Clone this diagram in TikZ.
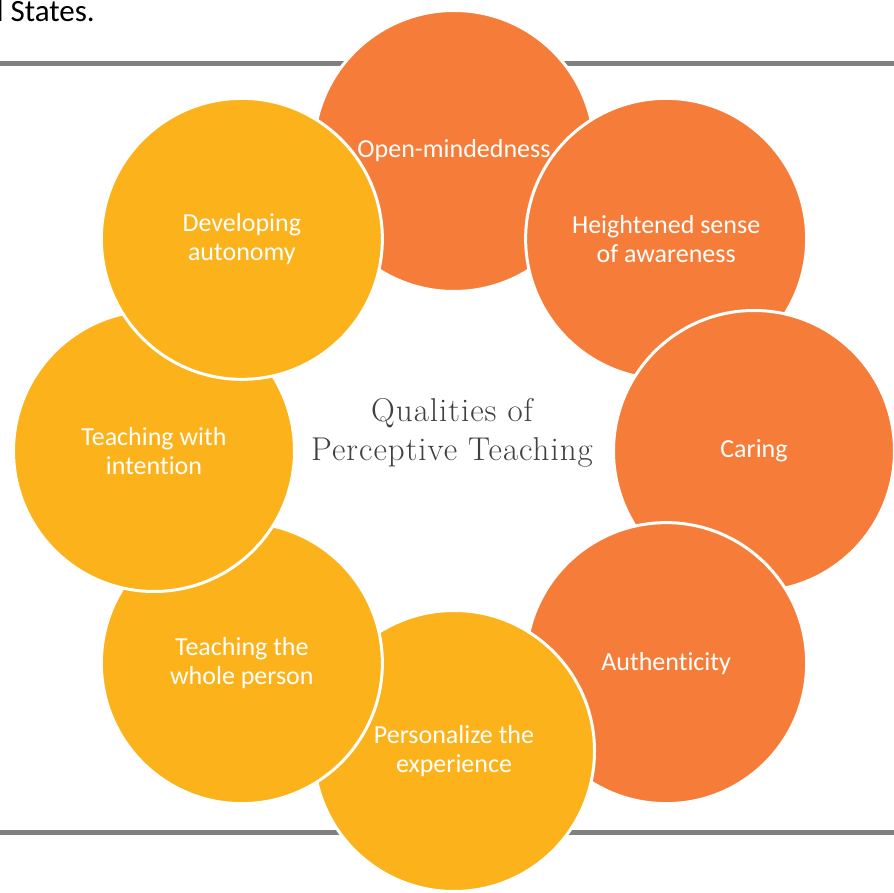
\documentclass[tikz,border=0pt]{standalone}
\usepackage{fontspec}
\usepackage{xcolor}
\usepackage{tikz}
\newfontfamily\calibri[Ligatures=NoCommon]{Carlito}
\newfontfamily\titlefont[LetterSpace=3]{Latin Modern Roman}
\definecolor{warmorange}{HTML}{F57D39}
\definecolor{goldyellow}{HTML}{FBB21B}
\definecolor{rulegray}{HTML}{808080}
\definecolor{titlegray}{HTML}{404040}

\begin{document}
\begin{tikzpicture}[x=1pt, y=1pt,
    quality/.style={circle, minimum size=281pt, inner sep=0pt, draw=white, line width=3pt, text=white, align=center, font=\calibri\fontsize{26}{29}\selectfont},
    warm/.style={quality, fill=warmorange},
    gold/.style={quality, fill=goldyellow},
    label only/.style={text=white, align=center, font=\calibri\fontsize{26}{29}\selectfont},
    rule/.style={draw=rulegray, line width=5pt}]
    \useasboundingbox (0,0) rectangle (894,892);
    \clip (0,0) rectangle (894,892);
    \coordinate (hub) at (454,441);
    % page rules behind the ring
    \draw[rule] (0,828) -- (894,828);
    \draw[rule] (0,59.5) -- (894,59.5);
    \node[anchor=base east, inner sep=0pt, font=\calibri\fontsize{31}{37}\selectfont] (tail) at (95,870) {United States.};
    \node[text=titlegray, align=center, font=\titlefont\fontsize{33}{39}\selectfont] (title) at ([shift={(-2,18)}]hub) {Qualities of\\Perceptive Teaching};
    % ring of qualities
    \node[warm] (open) at ([shift={(90:300)}]hub) {};
    \node[gold] (autonomy) at ([shift={(135:300)}]hub) {Developing\\autonomy};
    \node[label only] (openlabel) at (open) {Open-mindedness};
    \node[warm] (aware) at ([shift={(45:300)}]hub) {Heightened sense\\of awareness};
    \node[warm] (caring) at ([shift={(0:300)}]hub) {Caring};
    \node[warm] (authentic) at ([shift={(-45:300)}]hub) {Authenticity};
    \node[gold] (personal) at ([shift={(-90:300)}]hub) {Personalize the\\experience};
    \node[gold] (whole) at ([shift={(-135:300)}]hub) {Teaching the\\whole person};
    \node[gold] (intention) at ([shift={(180:300)}]hub) {Teaching with\\intention};
    % autonomy closes the ring over intention
    \begin{scope}
        \clip (0,0) rectangle (894,592);
        \draw[draw=white, line width=3pt, fill=goldyellow] (autonomy.center) circle[radius=140.5];
    \end{scope}
\end{tikzpicture}
\end{document}
